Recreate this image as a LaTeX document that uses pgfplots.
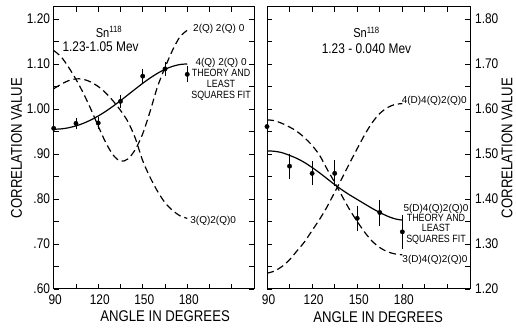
\documentclass[border=0pt]{standalone}
\usepackage{fontspec}
\setmainfont{Liberation Sans}[FakeStretch=0.85]
\newfontfamily\plainfont{Liberation Sans}
\usepackage{pgfplots}
\pgfplotsset{compat=1.18}
\tikzset{lab/.style={font=\plainfont\fontsize{10}{10}\selectfont, inner sep=0pt}}
\pgfplotsset{
  panel/.style={
    scale only axis, height=282pt, xmin=90, xmax=225,
    xtick={90,120,150,180}, xticklabels={90,120,150,180},
    minor xtick={105,135,165,195,210},
    major tick length=5pt, minor tick length=5pt,
    every tick/.style={black, line width=0.8pt},
    every minor tick/.style={black, line width=0.8pt},
    axis line style={line width=1pt},
    tick label style={font=\fontsize{14}{14}\selectfont},
    xticklabel style={inner sep=0pt, yshift=-6pt, xshift=1.5pt},
    xlabel={ANGLE IN DEGREES},
    ylabel={CORRELATION VALUE},
    label style={font=\fontsize{15.5}{16}\selectfont},
    /pgf/number format/assume math mode=true,
  },
  curve/.style={black, line width=1.2pt, smooth, mark=none},
  dcurve/.style={curve, dash pattern=on 7pt off 4pt},
  pts/.style={black, only marks, mark=*, mark size=2.2pt,
    error bars/.cd, y dir=both, y explicit,
    error bar style={line width=0.8pt},
    error mark options={black, mark size=2.2pt, line width=0.8pt}},
}
\begin{document}
\begin{tikzpicture}
\useasboundingbox (0,0) rectangle (516pt,329pt);
% ---------------- left panel ----------------
\begin{axis}[panel, width=200.3pt, at={(53.7pt,40pt)}, anchor=south west,
  ymin=0.6, ymax=1.2267,
  ytick={0.6,0.7,0.8,0.9,1.0,1.1,1.2},
  yticklabels={.60,.70,.80,.90,1.00,1.10,1.20},
  minor ytick={0.65,0.75,0.85,0.95,1.05,1.15},
  yticklabel style={inner sep=0pt, xshift=-3.5pt},
  ylabel style={at={(axis description cs:-0.185,0.5)}, anchor=center, rotate=0},
  xlabel style={at={(axis description cs:0.556,-0.095)}, anchor=center},
]
% 4(Q)2(Q)0 theory (solid)
\addplot[curve] coordinates {
(90,0.955) (95,0.9558) (100,0.9583) (105,0.9625) (110,0.9682) (115,0.9756)
(120,0.9845) (125,0.9947) (130,1.0062) (135,1.0185) (140,1.0314) (145,1.0444)
(150,1.0571) (155,1.0689) (160,1.0794) (165,1.0882) (170,1.0947) (175,1.0988) (180,1.1002)};
% 2(Q)2(Q)0 (dashed)
\addplot[dcurve] coordinates {
(90,1.130) (95,1.116) (100,1.093) (105,1.066) (110,1.035) (115,1.000)
(120,0.962) (125,0.926) (130,0.898) (135,0.884) (140,0.889) (145,0.910)
(150,0.945) (155,0.995) (160,1.050) (165,1.092) (170,1.130) (175,1.160) (180,1.175)};
% 3(Q)2(Q)0 (dashed)
\addplot[dcurve] coordinates {
(90,1.045) (95,1.055) (100,1.063) (105,1.067) (110,1.066) (115,1.060)
(120,1.050) (125,1.036) (130,1.018) (135,0.997) (140,0.972) (145,0.935)
(150,0.885) (155,0.848) (160,0.817) (165,0.792) (170,0.775) (175,0.763) (180,0.757)};
% measured
\addplot[pts] coordinates {
(90,0.957) +- (0,0.011)
(105,0.968) +- (0,0.008)
(120,0.969) +- (0,0.009)
(135,1.017) +- (0,0.010)
(150,1.073) +- (0,0.011)
(165,1.089) +- (0,0.010)
(180,1.077) +- (0,0.013)};
\node[lab, anchor=west] at (axis cs:183.9,1.178) {2(Q) 2(Q) 0};
\node[lab, anchor=west] at (axis cs:182,0.751) {3(Q)2(Q)0};
\node[inner sep=0pt, align=center, font=\fontsize{10.5}{11}\selectfont]
  at (axis cs:202.8,1.0656) {{\plainfont\fontsize{10}{11}\selectfont 4(Q) 2(Q) 0}\\THEORY AND\\LEAST\\SQUARES FIT};
\node[inner sep=0pt, font=\fontsize{13}{13}\selectfont]
  at (axis description cs:0.276,0.912) {Sn\textsuperscript{118}};
\node[inner sep=0pt, font=\fontsize{14}{14}\selectfont]
  at (axis description cs:0.234,0.859) {1.23-1.05 Mev};
\end{axis}
% ---------------- right panel ----------------
\begin{axis}[panel, width=203pt, at={(267pt,40pt)}, anchor=south west,
  ymin=1.2, ymax=1.8267,
  ytick={1.2,1.3,1.4,1.5,1.6,1.7,1.8},
  yticklabels={1.20,1.30,1.40,1.50,1.60,1.70,1.80},
  minor ytick={1.25,1.35,1.45,1.55,1.65,1.75},
  yticklabel pos=right,
  yticklabel style={inner sep=0pt, xshift=5pt},
  ylabel style={at={(axis description cs:1.182,0.5)}, anchor=center, rotate=0},
  xlabel style={at={(axis description cs:0.547,-0.10)}, anchor=center},
]
% 5(D)4(Q)2(Q)0 theory (solid)
\addplot[curve] coordinates {
(90,1.507) (95,1.506) (100,1.503) (105,1.497) (110,1.490) (115,1.481)
(120,1.470) (125,1.458) (130,1.445) (135,1.432) (140,1.420) (145,1.409)
(150,1.399) (155,1.389) (160,1.379) (165,1.370) (170,1.362) (175,1.356) (180,1.353)};
% 3(D)4(Q)2(Q)0 (dashed)
\addplot[dcurve] coordinates {
(90,1.576) (95,1.574) (100,1.568) (105,1.560) (110,1.550) (115,1.536)
(120,1.519) (125,1.497) (130,1.466) (135,1.437) (140,1.406) (145,1.376)
(150,1.350) (155,1.326) (160,1.306) (165,1.292) (170,1.283) (175,1.278) (180,1.276)};
% 4(D)4(Q)2(Q)0 (dashed)
\addplot[dcurve] coordinates {
(90,1.235) (95,1.240) (100,1.250) (105,1.265) (110,1.285) (115,1.305)
(120,1.330) (125,1.355) (130,1.383) (135,1.415) (140,1.447) (145,1.480)
(150,1.512) (155,1.543) (160,1.570) (165,1.590) (170,1.603) (175,1.610) (180,1.612)};
% measured
\addplot[pts] coordinates {
(90,1.561) +- (0,0.030)
(105,1.473) +- (0,0.023)
(120,1.457) +- (0,0.022)
(135,1.457) +- (0,0.024)
(150,1.357) +- (0,0.023)
(165,1.370) +- (0,0.024)
(180,1.327) +- (0,0.033)};
\node[lab, anchor=west] at (axis cs:179.5,1.618) {4(D)4(Q)2(Q)0};
\node[lab, anchor=center] at (axis cs:201.7,1.2644) {3(D)4(Q)2(Q)0};
\node[inner sep=0pt, align=center, font=\fontsize{10.5}{10.3}\selectfont]
  at (axis cs:202.4,1.3444) {{\plainfont\fontsize{10}{10.3}\selectfont 5(D)4(Q)2(Q)0}\\THEORY AND\\LEAST\\SQUARES FIT};
\node[inner sep=0pt, font=\fontsize{13}{13}\selectfont]
  at (axis description cs:0.49,0.91) {Sn\textsuperscript{118}};
\node[inner sep=0pt, font=\fontsize{14}{14}\selectfont]
  at (axis description cs:0.49,0.852) {1.23 - 0.040 Mev};
\end{axis}
\end{tikzpicture}
\end{document}
